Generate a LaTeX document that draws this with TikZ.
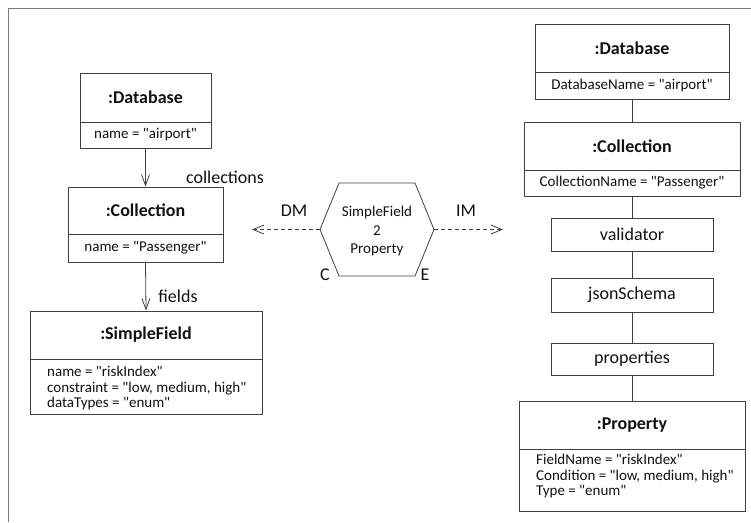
\documentclass[tikz,border=0pt]{standalone}
\usepackage{fontspec}
\setmainfont{Carlito}[Ligatures=TeXOff]
\usetikzlibrary{arrows.meta}
\definecolor{linec}{HTML}{404040}
\definecolor{framec}{HTML}{7A7A7A}
\definecolor{txt}{HTML}{111111}
\begin{document}
\begin{tikzpicture}[x=1pt,y=-1pt,
  every node/.style={text=txt},
  box/.style={draw=linec, line width=0.8pt, inner sep=0pt, align=center},
  titlebox/.style={box, font=\fontsize{18}{20}\selectfont\bfseries},
  attrbox/.style={box, font=\fontsize{15}{15}\selectfont},
  plainbox/.style={box, font=\fontsize{18}{20}\selectfont},
  attrtext/.style={inner sep=0pt, align=left, anchor=west, font=\fontsize{15}{15.5}\selectfont},
  lbl/.style={inner sep=0pt, font=\fontsize{18}{20}\selectfont},
  uarrow/.style={draw=linec, line width=0.8pt, -{Straight Barb[length=11pt,width=8pt]}},
  darrow/.style={draw=linec, line width=0.8pt, dash pattern=on 4pt off 3pt, -{Straight Barb[length=11pt,width=9pt]}},
  conn/.style={draw=linec, line width=0.8pt}
]
\useasboundingbox (0,0) rectangle (751,522);
% frame
\draw[framec, line width=1pt] (751,8) -- (8,8) -- (8,522);

% ---- left model ----
\node[titlebox, minimum width=131pt, minimum height=49pt] (ldb) at (145.5,97.5) {:Database};
\node[attrbox, minimum width=131pt, minimum height=26pt] (ldba) at (145.5,135) {name = "airport"};
\node[titlebox, minimum width=155pt, minimum height=47pt] (lcol) at (145.5,210.5) {:Collection};
\node[attrbox, minimum width=155pt, minimum height=28pt] (lcola) at (145.5,248) {name = "Passenger"};
\node[titlebox, minimum width=232pt, minimum height=48pt] (lsf) at (146,335) {:SimpleField};
\node[attrbox, minimum width=232pt, minimum height=55pt] (lsfa) at (146,386.5) {};
\node[attrtext] (lsft) at (47,388) {name = "riskIndex"\\constraint = "low, medium, high"\\dataTypes = "enum"};

\draw[uarrow] (ldba.south) -- (lcol.north);
\draw[uarrow] (lcola.south) -- (lsf.north);
\node[lbl] (lcollections) at (225,177) {collections};
\node[lbl] (lfields) at (178,296) {fields};

% ---- hexagon ----
\coordinate (hL) at (320,229.5);
\coordinate (hTL) at (339,183);
\coordinate (hTR) at (415,183);
\coordinate (hR) at (434,229.5);
\coordinate (hBR) at (415,276);
\coordinate (hBL) at (339,276);
\draw[conn] (hL) -- (hTL) -- (hTR) -- (hR) -- (hBR) -- (hBL) -- cycle;
\node[inner sep=0pt, align=center, font=\fontsize{15}{18.5}\selectfont] (hex) at (377,231) {SimpleField\\2\\Property};
\coordinate (dmend) at (252,229.5);
\coordinate (imend) at (503,229.5);
\draw[darrow] (hL) -- (dmend);
\draw[darrow] (hR) -- (imend);
\node[lbl] (ldm) at (294,211) {DM};
\node[lbl] (lim) at (466,211) {IM};
\node[lbl] (lc) at (325,275) {C};
\node[lbl] (le) at (425,275) {E};

% ---- right model ----
\node[titlebox, minimum width=194pt, minimum height=48pt] (rdb) at (632,48) {:Database};
\node[attrbox, minimum width=194pt, minimum height=27pt] (rdba) at (632,85.5) {DatabaseName = "airport"};
\node[titlebox, minimum width=216pt, minimum height=48pt] (rcol) at (632,146) {:Collection};
\node[attrbox, minimum width=216pt, minimum height=26pt] (rcola) at (632,183) {CollectionName = "Passenger"};
\node[plainbox, minimum width=162pt, minimum height=33pt] (val) at (632,234.5) {validator};
\node[plainbox, minimum width=162pt, minimum height=34pt] (json) at (632,295) {jsonSchema};
\node[plainbox, minimum width=162pt, minimum height=32pt] (prop) at (632,359) {properties};
\node[titlebox, minimum width=226pt, minimum height=48pt] (rpr) at (632,425) {:Property};
\node[attrbox, minimum width=226pt, minimum height=62pt] (rpra) at (632,480) {};
\node[attrtext] (rprt) at (536,476) {FieldName = "riskIndex"\\Condition = "low, medium, high"\\Type = "enum"};

\draw[conn] (rdba.south) -- (rcol.north);
\draw[conn] (rcola.south) -- (val.north);
\draw[conn] (val.south) -- (json.north);
\draw[conn] (json.south) -- (prop.north);
\draw[conn] (prop.south) -- (rpr.north);
\end{tikzpicture}
\end{document}
